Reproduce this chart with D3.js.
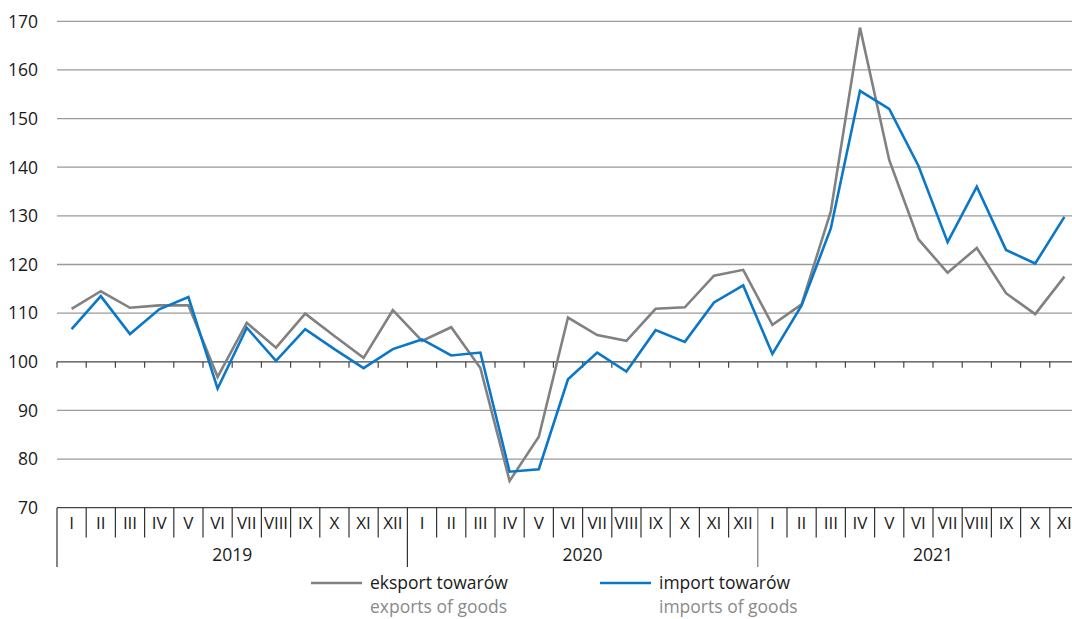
<!DOCTYPE html>
<html><head><meta charset="utf-8">
<script src="https://cdn.jsdelivr.net/npm/d3@7"></script>
<style>
html,body{margin:0;padding:0;background:#fff;overflow:hidden}
text{font-family:"Open Sans","Noto Sans",sans-serif}
</style></head>
<body><svg id="c" width="1072" height="619"></svg>
<script>
const years = ["2019","2020","2021"];
const months = ["I","II","III","IV","V","VI","VII","VIII","IX","X","XI","XII"];
const monthsPerYear = [12,12,11];
const exportsGoods = [110.9,114.5,111.1,111.6,111.6,96.9,108.0,102.9,109.9,105.3,100.8,110.6,
  104.3,107.1,98.7,75.5,84.6,109.1,105.5,104.3,110.9,111.2,117.7,118.9,
  107.6,111.8,130.9,168.7,141.5,125.2,118.3,123.4,114.1,109.8,117.5];
const importsGoods = [106.7,113.5,105.7,110.8,113.3,94.5,107.0,100.2,106.7,102.6,98.7,102.6,
  104.6,101.3,101.9,77.4,77.9,96.4,101.9,98.0,106.5,104.1,112.2,115.7,
  101.6,111.6,127.4,155.7,152.0,140.3,124.6,136.0,123.0,120.2,129.8];
const yTicks = [70,80,90,100,110,120,130,140,150,160,170];
const legendPl = ["eksport towarów","import towarów"];
const legendEn = ["exports of goods","imports of goods"];

const svg = d3.select("#c");
const mLeft = 57, mTop = 21.3, mBottom = 507.7;
const cellW = 29.2;
const nMonths = exportsGoods.length;
const mRight = mLeft + nMonths*cellW;
const cats = [];
years.forEach((yr,i)=>{ for(let m=0;m<monthsPerYear[i];m++) cats.push({year:yr, m:months[m], idx:cats.length}); });

const x = d3.scaleBand().domain(d3.range(nMonths)).range([mLeft,mRight]).padding(0);
const y = d3.scaleLinear().domain([70,170]).range([mBottom, mTop]);

// gridlines
svg.append("g").selectAll("line").data(yTicks.filter(t=>t!==100 && t!==70)).join("line")
  .attr("x1",mLeft).attr("x2",1072).attr("y1",d=>y(d)).attr("y2",d=>y(d))
  .attr("stroke","#9a9a9a").attr("stroke-width",1.3);

// y labels
svg.append("g").selectAll("text").data(yTicks).join("text")
  .attr("x",38).attr("y",d=>y(d)).attr("dy","0.36em").attr("text-anchor","end")
  .attr("font-size",17.5).attr("fill","#1a1a1a").text(d=>d);

// 100 line with ticks
svg.append("line").attr("x1",mLeft).attr("x2",1072).attr("y1",y(100)).attr("y2",y(100))
  .attr("stroke","#444").attr("stroke-width",1.3);
svg.append("g").selectAll("line").data(d3.range(nMonths+1)).join("line")
  .attr("x1",d=>mLeft+d*cellW).attr("x2",d=>mLeft+d*cellW)
  .attr("y1",y(100)).attr("y2",y(100)+6).attr("stroke","#444").attr("stroke-width",1.2);

// bottom axis
svg.append("line").attr("x1",mLeft).attr("x2",1072).attr("y1",mBottom).attr("y2",mBottom)
  .attr("stroke","#444").attr("stroke-width",1.3);
const yearStarts = [0]; monthsPerYear.reduce((a,b)=>{yearStarts.push(a+b);return a+b;},0);
svg.append("g").selectAll("line").data(d3.range(nMonths+1)).join("line")
  .attr("x1",d=>mLeft+d*cellW).attr("x2",d=>mLeft+d*cellW)
  .attr("y1",mBottom).attr("y2",d=> (yearStarts.includes(d)&&d<nMonths?567:537.5))
  .attr("stroke",d=> yearStarts.includes(d)&&d>12 ? "#777":"#333").attr("stroke-width",1.2);
svg.append("g").selectAll("text").data(cats).join("text")
  .attr("x",d=>x(d.idx)+x.bandwidth()/2).attr("y",523).attr("dy","0.36em")
  .attr("text-anchor","middle").attr("font-size",17).attr("fill","#1a1a1a")
  .attr("textLength",d=>d.m.length>3?24:null).attr("lengthAdjust","spacingAndGlyphs")
  .text(d=>d.m);
svg.append("g").selectAll("text").data(years).join("text")
  .attr("x",(d,i)=>mLeft+(yearStarts[i]+6)*cellW).attr("y",555).attr("dy","0.36em")
  .attr("text-anchor","middle").attr("font-size",17.5).attr("fill","#1a1a1a").text(d=>d);

// lines
const line = d3.line().x((d,i)=>x(i)+x.bandwidth()/2).y(d=>y(d));
svg.append("path").datum(exportsGoods).attr("d",line).attr("fill","none")
  .attr("stroke","#818181").attr("stroke-width",2.6).attr("stroke-linejoin","miter");
svg.append("path").datum(importsGoods).attr("d",line).attr("fill","none")
  .attr("stroke","#0a77c9").attr("stroke-width",2.6).attr("stroke-linejoin","miter");

// legend
const lg = [{x:311,c:"#818181"},{x:600,c:"#0a77c9"}];
lg.forEach((l,i)=>{
  svg.append("line").attr("x1",l.x).attr("x2",l.x+51).attr("y1",583).attr("y2",583)
    .attr("stroke",l.c).attr("stroke-width",2.6);
  svg.append("text").attr("x",l.x+59).attr("y",589).attr("font-size",17.5).attr("fill","#1a1a1a").text(legendPl[i]);
  svg.append("text").attr("x",l.x+59).attr("y",613).attr("font-size",17.5).attr("fill","#8a8a8a").text(legendEn[i]);
});
</script></body></html>
